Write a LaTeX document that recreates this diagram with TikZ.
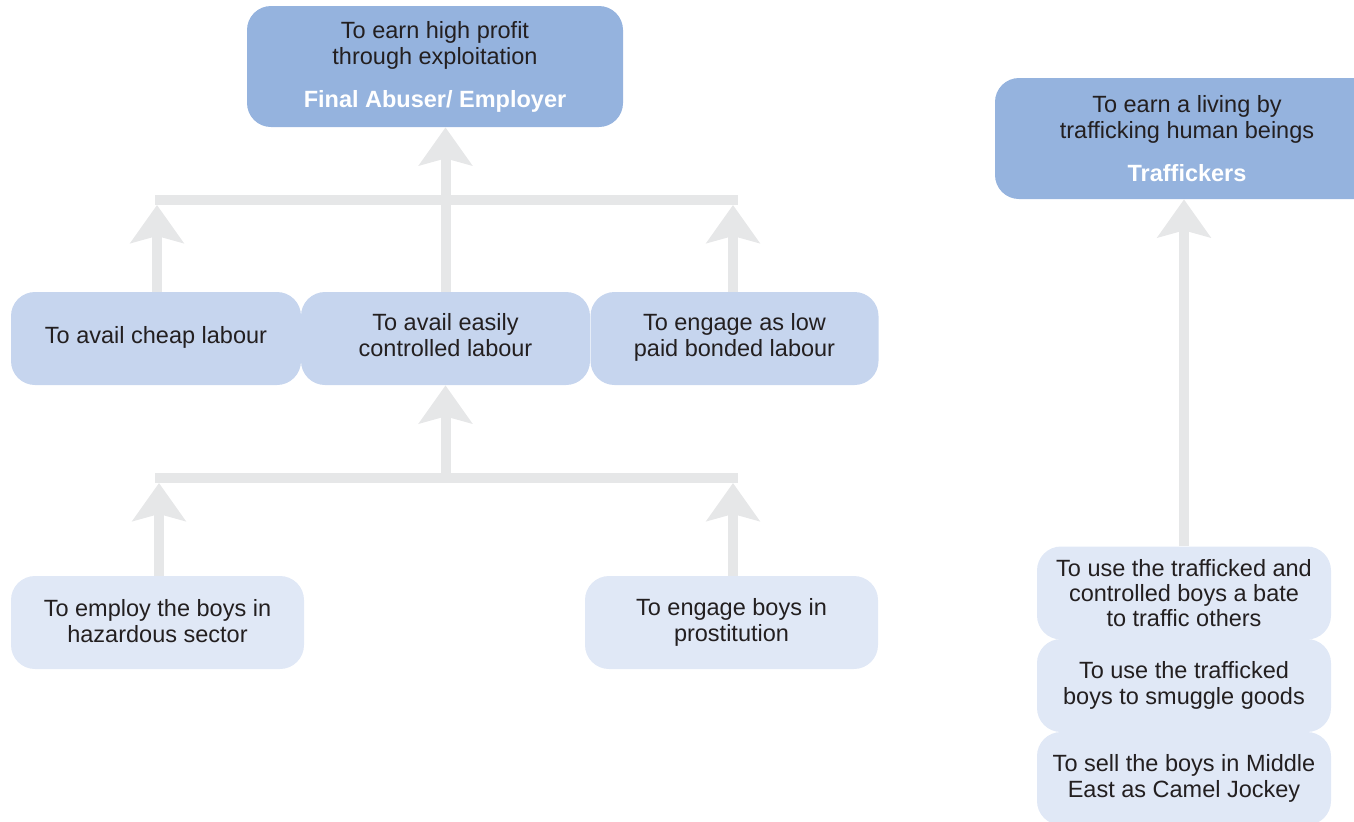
\documentclass[tikz,border=0pt]{standalone}
\usepackage{fontspec}
\setmainfont{Liberation Sans}
\usetikzlibrary{arrows.meta,calc}

\definecolor{boxdark}{HTML}{95B3DE}
\definecolor{boxmid}{HTML}{C6D5EE}
\definecolor{boxlight}{HTML}{E0E8F6}
\definecolor{flow}{HTML}{E6E7E8}
\definecolor{ink}{HTML}{231F20}

\tikzset{
  base/.style={rounded corners=12pt, inner sep=0pt, align=center,
    font=\fontsize{11.75}{13}\selectfont, text=ink},
  goalbox/.style={base, fill=boxdark, minimum height=60.5pt},
  midbox/.style={base, fill=boxmid, minimum height=46.5pt, text depth=4pt},
  lowbox/.style={base, fill=boxlight, minimum height=46.5pt},
  bar/.style={draw=flow, line width=5pt, line cap=butt},
  uparrow/.style={draw=flow, line width=5pt,
    -{Stealth[length=19pt, width=26.5pt, inset=3.5pt]}}
}

\begin{document}
\begin{tikzpicture}[x=0.5pt, y=-0.5pt]
  \useasboundingbox (0,0) rectangle (1354,821);
  \clip (0,0) rectangle (1354,821);

  % goals
  \node[goalbox, minimum width=188pt] (abuser) at (435,66.5)
    {To earn high profit\\through exploitation\\[8.5pt]{\bfseries\color{white}Final Abuser/ Employer}};
  \node[goalbox, minimum width=192pt] (traffickers) at (1187,138.5)
    {To earn a living by\\trafficking human beings\\[8.5pt]{\bfseries\color{white}Traffickers}};

  % intermediate objectives
  \node[midbox, minimum width=145pt] (cheap) at (156,338.5) {To avail cheap labour};
  \node[midbox, minimum width=144.5pt] (easily) at (445.5,338.5) {To avail easily\\controlled labour};
  \node[midbox, minimum width=144pt] (bonded) at (734.5,338.5) {To engage as low\\paid bonded labour};

  % lower objectives
  \node[lowbox, minimum width=146.5pt, text depth=2pt] (hazard) at (157.5,622.5) {To employ the boys in\\hazardous sector};
  \node[lowbox, minimum width=146.5pt] (prost) at (731.5,622.5) {To engage boys in\\prostitution};

  % trafficker stack
  \node[lowbox, minimum width=147pt, font=\fontsize{11.75}{12.4}\selectfont] (bate) at (1184,593) {To use the trafficked and\\controlled boys a bate\\to traffic others};
  \node[lowbox, minimum width=147pt] (smuggle) at (1184,685.5) {To use the trafficked\\boys to smuggle goods};
  \node[lowbox, minimum width=147pt] (jockey) at (1184,778.5) {To sell the boys in Middle\\East as Camel Jockey};

  % collector bars
  \coordinate (ubarL) at (155,200);
  \coordinate (ubarR) at (738,200);
  \coordinate (lbarL) at (155,478);
  \coordinate (lbarR) at (738,478);
  \draw[bar] (ubarL) -- (ubarR);
  \draw[bar] (lbarL) -- (lbarR);

  % upper level arrows
  \draw[uparrow] ($(cheap.north)+(1,0)$) -- ($(cheap.north |- ubarL)+(1,5)$);
  \draw[uparrow] ($(bonded.north)+(-1.5,0)$) -- ($(bonded.north |- ubarR)+(-1.5,5)$);
  \draw[uparrow] (easily.north) -- (easily.north |- abuser.south);

  % lower level arrows
  \draw[uparrow] ($(hazard.north)+(1.5,0)$) -- ($(hazard.north |- lbarL)+(1.5,5)$);
  \draw[uparrow] ($(prost.north)+(1.5,0)$) -- ($(prost.north |- lbarR)+(1.5,5)$);
  \draw[uparrow] (easily.south |- lbarL) -- (easily.south);

  % trafficker arrow
  \draw[uparrow] (bate.north) -- (bate.north |- traffickers.south);
\end{tikzpicture}
\end{document}
